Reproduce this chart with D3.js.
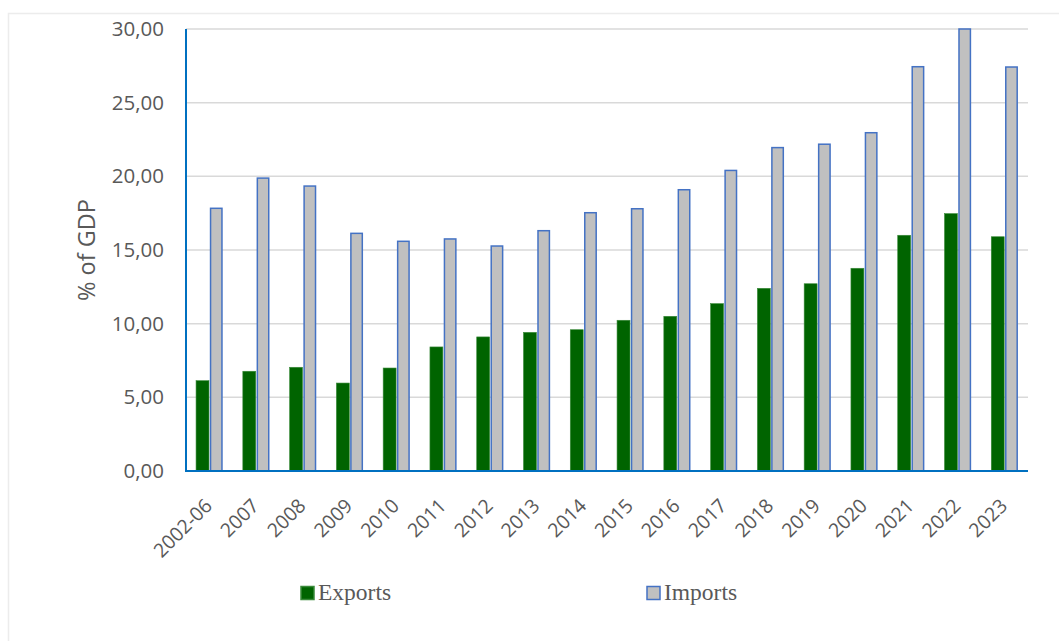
<!DOCTYPE html>
<html><head><meta charset="utf-8">
<script src="https://cdn.jsdelivr.net/npm/d3@7"></script>
<style>body{margin:0;background:#fff}</style>
</head><body>
<svg id="c" width="1059" height="641"></svg>
<script>
const categories = ["2002-06","2007","2008","2009","2010","2011","2012","2013","2014","2015","2016","2017","2018","2019","2020","2021","2022","2023"];
const exportsVals = [6.13,6.77,7.04,5.97,6.99,8.42,9.10,9.41,9.59,10.23,10.50,11.36,12.40,12.71,13.76,16.00,17.47,15.90];
const importsVals = [17.83,19.88,19.34,16.13,15.59,15.75,15.27,16.31,17.53,17.80,19.09,20.40,21.95,22.18,22.96,27.44,30.00,27.42];
const seriesNames = ["Exports","Imports"];
const yTicks = [0,5,10,15,20,25,30];

const svg = d3.select("#c");
const L = 186, R = 1028, T = 29, B = 471;
const fmt = v => d3.format(".2f")(v).replace(".", ",");

svg.append("rect").attr("x",8.5).attr("y",13.5).attr("width",1060).attr("height",640)
  .attr("fill","none").attr("stroke","#ececec").attr("stroke-width",1.5);

const x = d3.scaleBand().domain(categories).range([L,R]).paddingInner(0.43).paddingOuter(0.215);
const xs = d3.scaleBand().domain(seriesNames).range([0,x.bandwidth()]).paddingInner(0.06);
const y = d3.scaleLinear().domain([0,30]).range([B,T]);

// gridlines
svg.append("g").selectAll("line").data(yTicks.filter(d=>d>0)).join("line")
  .attr("x1",L).attr("x2",R).attr("y1",d=>y(d)).attr("y2",d=>y(d))
  .attr("stroke","#d9d9d9").attr("stroke-width",1.5);

// y labels
const yAxis = d3.axisLeft(y).tickValues(yTicks).tickFormat(fmt).tickSize(0).tickPadding(22);
const ga = svg.append("g").attr("transform",`translate(${L},0)`).call(yAxis);
ga.select(".domain").remove();
ga.selectAll("text").attr("font-family","'Open Sans', sans-serif").attr("font-size",20.5).attr("fill","#595959");

// bars
const data = categories.map((c,i)=>({c, Exports: exportsVals[i], Imports: importsVals[i]}));
const g = svg.append("g");
g.selectAll("rect.ex").data(data).join("rect").attr("class","ex")
  .attr("x",d=>x(d.c)+xs("Exports")).attr("width",xs.bandwidth())
  .attr("y",d=>y(d.Exports)).attr("height",d=>B-y(d.Exports))
  .attr("fill","#006400").attr("stroke","#3a8a3a").attr("stroke-width",0.6);
g.selectAll("rect.im").data(data).join("rect").attr("class","im")
  .attr("x",d=>x(d.c)+xs("Imports")+0.75).attr("width",xs.bandwidth()-1.5)
  .attr("y",d=>y(d.Imports)).attr("height",d=>B-y(d.Imports))
  .attr("fill","#c0c0c0").attr("stroke","#4472c4").attr("stroke-width",1.5);

// axis lines
svg.append("line").attr("x1",L).attr("x2",L).attr("y1",T).attr("y2",B+1)
  .attr("stroke","#0070c0").attr("stroke-width",2);
svg.append("line").attr("x1",L-1).attr("x2",R).attr("y1",B).attr("y2",B)
  .attr("stroke","#0070c0").attr("stroke-width",2);

// x labels
const xAxis = d3.axisBottom(x).tickSize(0).tickPadding(0);
const gx = svg.append("g").attr("transform",`translate(0,${B})`).call(xAxis);
gx.select(".domain").remove();
gx.selectAll("text").attr("font-family","'Open Sans', sans-serif").attr("font-size",19.5).attr("fill","#595959")
  .attr("text-anchor","end").attr("dy",0)
  .attr("transform","translate(4,36) rotate(-45)");

// y title
svg.append("text").attr("transform","translate(95,250) rotate(-90)")
  .attr("text-anchor","middle").attr("font-family","'Open Sans', sans-serif")
  .attr("font-size",23.5).attr("fill","#595959").text("% of GDP");

// legend
const legend = [{n:"Exports",x:301,fill:"#006400",stroke:"#3a8a3a"},{n:"Imports",x:647,fill:"#c0c0c0",stroke:"#4472c4"}];
legend.forEach(l=>{
  svg.append("rect").attr("x",l.x).attr("y",586.5).attr("width",13).attr("height",13)
    .attr("fill",l.fill).attr("stroke",l.stroke).attr("stroke-width",1.5);
  svg.append("text").attr("x",l.x+17).attr("y",600).attr("font-family","'Liberation Serif', 'Times New Roman', serif")
    .attr("font-size",23.5).attr("fill","#595959").text(l.n);
});
</script>
</body></html>
